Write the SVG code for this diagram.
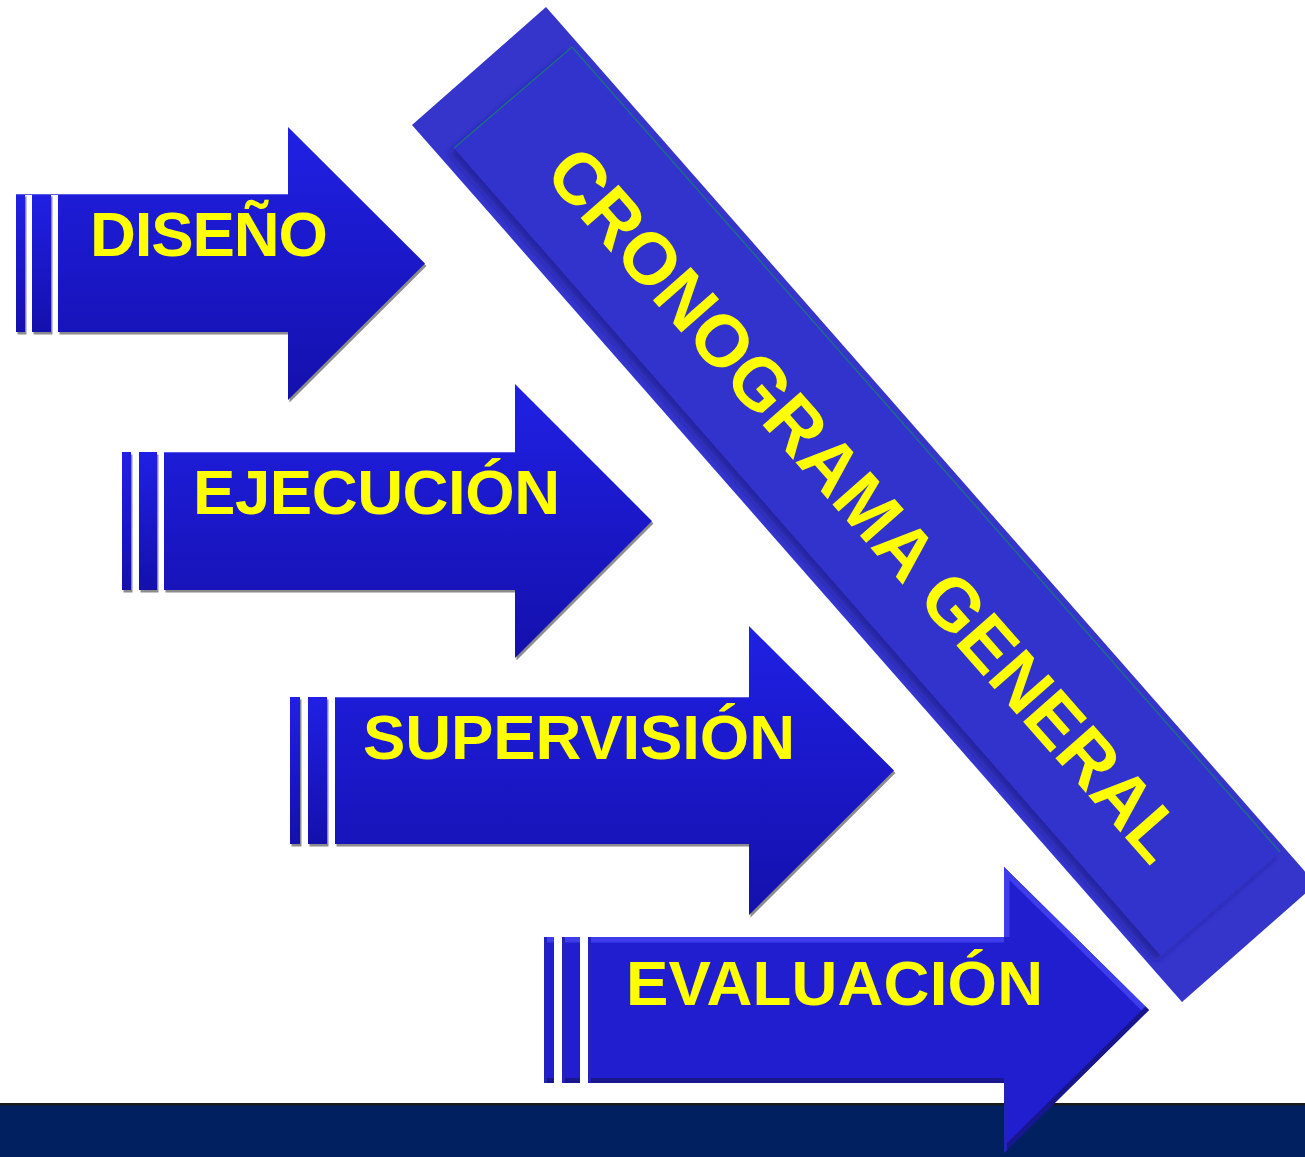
<svg xmlns="http://www.w3.org/2000/svg" width="1305" height="1157" viewBox="0 0 1305 1157">
  <defs>
    <linearGradient id="gArrow" x1="0" y1="0" x2="0" y2="1">
      <stop offset="0" stop-color="#2020E4"/>
      <stop offset="1" stop-color="#1410AC"/>
    </linearGradient>
    <filter id="innerShadow" x="-10%" y="-10%" width="120%" height="120%">
      <feGaussianBlur in="SourceAlpha" stdDeviation="3"/>
      <feOffset dx="-5" dy="5" result="b"/>
      <feFlood flood-color="#1a1a80" flood-opacity="0.55"/>
      <feComposite in2="b" operator="in"/>
      <feMerge><feMergeNode/><feMergeNode in="SourceGraphic"/></feMerge>
    </filter>
    <clipPath id="clipA4">
      <polygon points="588,937 1004,937 1004,867 1149,1010 1004,1153 1004,1083 588,1083"/>
      <rect x="544" y="937" width="10" height="146"/>
      <rect x="562" y="937" width="18" height="146"/>
    </clipPath>
  </defs>
  <style>
    .lbl { font-family: "Liberation Sans", Arial, sans-serif; font-weight: bold; font-size: 63.5px; fill: #FFFF00; }
    .ban { font-family: "Liberation Sans", Arial, sans-serif; font-weight: bold; font-size: 73px; fill: #FFFF00; }
    .shadow { fill: #8c8c8c; }
    .grad { fill: url(#gArrow); }
    .bev { fill: #201ECE; }
    .hi { stroke: #3D3DEC; stroke-width: 11; fill: none; }
    .lo { stroke: #17168C; stroke-width: 10; fill: none; }
    .mid { stroke: #2323BC; stroke-width: 6; fill: none; }
    .edge { stroke: #5a5ae6; stroke-width: 1; }
  </style>

  <rect x="0" y="0" width="1305" height="1157" fill="#FFFFFF"/>

  <g id="bottom-bar">
    <rect x="0" y="1105" width="1305" height="52" fill="#002060"/>
    <rect x="0" y="1103" width="1305" height="2.5" fill="#1a1a1a"/>
  </g>

  <g id="banner">
    <polygon points="546,7 1316,884 1182,1002 412,125" fill="#3535CC"/>
    <polygon points="572,47 1280,852 1161,956 454,148" fill="#3333CC" filter="url(#innerShadow)"/>
    <polyline points="454,148 572,47 1280,852" fill="none" stroke="#1F6A8A" stroke-width="1.5"/>
    <text class="ban" x="0" y="0" text-anchor="middle" transform="translate(847,521) rotate(48.7)">CRONOGRAMA GENERAL</text>
  </g>

  <g id="connectors"></g>

  <g id="arrow-diseno">
    <g transform="translate(1.5,2.5)">
      <rect class="shadow" x="16" y="194" width="9" height="138"/>
      <rect class="shadow" x="32" y="194" width="19" height="138"/>
      <polygon class="shadow" points="58,194 288,194 288,127 425,263.5 288,400 288,332 58,332"/>
    </g>
    <rect class="grad" x="16" y="194" width="9" height="138"/>
    <rect class="grad" x="32" y="194" width="19" height="138"/>
    <polygon class="grad" points="58,194 288,194 288,127 425,263.5 288,400 288,332 58,332"/>
    <line class="edge" x1="16" y1="194.5" x2="288" y2="194.5"/>
    <text class="lbl" x="90" y="256" textLength="238">DISEÑO</text>
  </g>

  <g id="arrow-ejecucion">
    <g transform="translate(1.5,2.5)">
      <rect class="shadow" x="122" y="452" width="9" height="138"/>
      <rect class="shadow" x="139" y="452" width="18" height="138"/>
      <polygon class="shadow" points="164,452 515,452 515,384 652,521 515,658 515,590 164,590"/>
    </g>
    <rect class="grad" x="122" y="452" width="9" height="138"/>
    <rect class="grad" x="139" y="452" width="18" height="138"/>
    <polygon class="grad" points="164,452 515,452 515,384 652,521 515,658 515,590 164,590"/>
    <line class="edge" x1="164" y1="452.5" x2="515" y2="452.5"/>
    <text class="lbl" x="193" y="514" textLength="367">EJECUCIÓN</text>
  </g>

  <g id="arrow-supervision">
    <g transform="translate(1.5,2.5)">
      <rect class="shadow" x="290" y="697" width="10" height="147"/>
      <rect class="shadow" x="308" y="697" width="19" height="147"/>
      <polygon class="shadow" points="335,697 749,697 749,626 894,770.5 749,915 749,844 335,844"/>
    </g>
    <rect class="grad" x="290" y="697" width="10" height="147"/>
    <rect class="grad" x="308" y="697" width="19" height="147"/>
    <polygon class="grad" points="335,697 749,697 749,626 894,770.5 749,915 749,844 335,844"/>
    <line class="edge" x1="335" y1="697.5" x2="749" y2="697.5"/>
    <text class="lbl" x="363" y="759" textLength="432">SUPERVISIÓN</text>
  </g>

  <g id="arrow-evaluacion">
    <rect class="bev" x="544" y="937" width="10" height="146"/>
    <rect class="bev" x="562" y="937" width="18" height="146"/>
    <polygon class="bev" points="588,937 1004,937 1004,867 1149,1010 1004,1153 1004,1083 588,1083"/>
    <g clip-path="url(#clipA4)">
      <line class="hi" x1="540" y1="937" x2="1004" y2="937"/>
      <line class="hi" x1="1004" y1="867" x2="1149" y2="1010"/>
      <line class="hi" x1="1004" y1="867" x2="1004" y2="937"/>
      <line class="lo" x1="1149" y1="1010" x2="1004" y2="1153"/>
      <line class="lo" x1="540" y1="1083" x2="1004" y2="1083"/>
      <line class="mid" x1="1004" y1="1083" x2="1004" y2="1153"/>
      <line class="mid" x1="588" y1="937" x2="588" y2="1083"/>
      <line class="mid" x1="544" y1="937" x2="544" y2="1083"/>
      <line class="mid" x1="562" y1="937" x2="562" y2="1083"/>
    </g>
    <text class="lbl" x="626" y="1005" textLength="417">EVALUACIÓN</text>
  </g>
</svg>
